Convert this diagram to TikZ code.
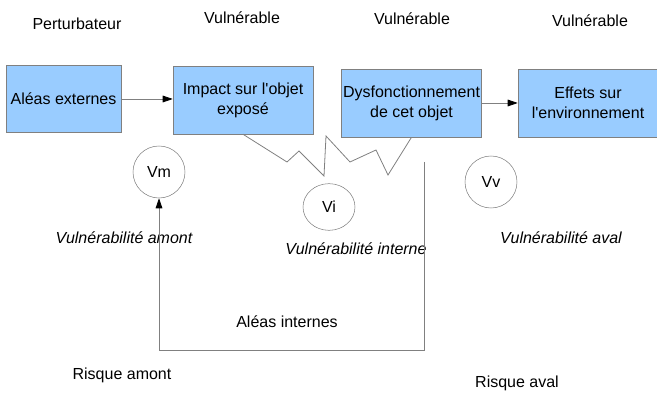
\documentclass[tikz,border=0pt]{standalone}
\usepackage{fontspec}
\setmainfont{Liberation Sans}
\usetikzlibrary{arrows.meta, shapes}
\definecolor{boxblue}{RGB}{153, 204, 255}
\definecolor{edgegray}{RGB}{128, 128, 128}

\begin{document}
\begin{tikzpicture}[x=0.75pt, y=-0.75pt,
        font=\fontsize{12}{15}\selectfont,
        etape/.style={draw=edgegray, fill=boxblue, minimum width=105pt, minimum height=51pt, inner sep=1pt, align=center},
        cercle/.style={draw=edgegray, circle, minimum size=39pt, inner sep=0pt},
        trait/.style={draw=edgegray, line width=0.6pt},
        fleche/.style={trait, -{Triangle[length=7.5pt, width=5pt, color=black]}},
        vulnlabel/.style={font=\fontsize{12}{15}\selectfont\itshape}]
        \useasboundingbox (0, 0) rectangle (657, 398);

        % en-tetes
        \node (pert) at (77, 24) {Perturbateur};
        \node (vuln1) at (242, 18) {Vulnérable};
        \node (vuln2) at (412, 19) {Vulnérable};
        \node (vuln3) at (590, 21) {Vulnérable};

        % chaine des etapes
        \node[etape, minimum width=86pt, minimum height=50pt] (aleas) at (63.5, 99) {Aléas externes};
        \node[etape] (impact) at (243, 100) {Impact sur l\textquotesingle objet\\exposé};
        \node[etape] (dysf) at (411.5, 103) {Dysfonctionnement\\de cet objet};
        \node[etape] (effets) at (588, 103) {Effets sur\\l\textquotesingle environnement};

        \draw[fleche] (aleas.east) -- (aleas.east -| impact.west);
        \draw[fleche] (dysf.east) -- (effets.west);

        % vulnerabilites
        \node[cercle] (vm) at (159, 172) {Vm};
        \node[cercle, ellipse, minimum width=39pt, minimum height=35pt] (vi) at (329, 207) {Vi};
        \node[cercle] (vv) at (491, 182) {Vv};

        \node[vulnlabel] (vam) at (124, 238) {Vulnérabilité amont};
        \node[vulnlabel] (vin) at (356, 249) {Vulnérabilité interne};
        \node[vulnlabel] (vav) at (561, 238) {Vulnérabilité aval};

        % zigzag entre impact et dysfonctionnement
        \draw[trait] (impact.south) -- (287, 162) -- (299, 151) -- (324, 176) -- (326, 136)
            -- (350, 162) -- (376, 150) -- (388, 175) -- (dysf.south);

        % boucle des aleas internes
        \coordinate (retour) at (424, 162);
        \draw[fleche] (retour) -- (424, 350) -- (159, 350) -- (vm.south);
        \node (ai) at (287, 322) {Aléas internes};

        % risques
        \node (ram) at (122, 375) {Risque amont};
        \node (rav) at (517, 383) {Risque aval};

    \end{tikzpicture}
\end{document}
